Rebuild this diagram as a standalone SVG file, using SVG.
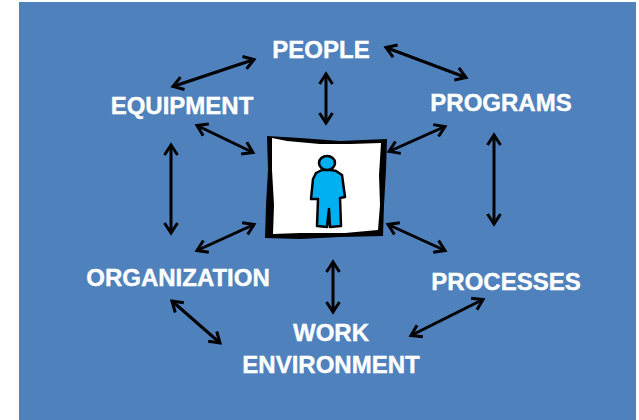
<svg xmlns="http://www.w3.org/2000/svg" width="639" height="420" viewBox="0 0 639 420">
<style>
.l{font-family:"Liberation Sans",Arial,sans-serif;font-weight:700;font-size:24px;fill:#fff;text-anchor:middle;stroke:#fff;stroke-width:.4}
.c{fill:none;stroke:#000;stroke-width:3;marker-start:url(#a);marker-end:url(#a)}
</style>
<defs>
<marker id="a" markerUnits="userSpaceOnUse" markerWidth="20" markerHeight="20" refX="15" refY="10" orient="auto-start-reverse">
<path d="M5 3.500L15 10L5 16.500" fill="none" stroke="#000" stroke-width="3"/>
</marker>
</defs>
<rect width="639" height="420" fill="#fff"/>
<rect x="19" y="2" width="617" height="418" fill="#4f81bd"/>
<g id="connectors">
<line class="c" x1="254" y1="59.500" x2="173" y2="86.500"/>
<line class="c" x1="386" y1="47.500" x2="466" y2="77.500"/>
<line class="c" x1="326" y1="74" x2="326" y2="123"/>
<line class="c" x1="197" y1="125.500" x2="253" y2="152.500"/>
<line class="c" x1="445" y1="126.500" x2="389" y2="151.500"/>
<line class="c" x1="171" y1="145" x2="171" y2="233"/>
<line class="c" x1="494" y1="135" x2="494" y2="224"/>
<line class="c" x1="197" y1="250.500" x2="254" y2="224.500"/>
<line class="c" x1="388" y1="224.500" x2="445" y2="250.500"/>
<line class="c" x1="333" y1="262" x2="333" y2="312"/>
<line class="c" x1="172" y1="301" x2="220" y2="343"/>
<line class="c" x1="411" y1="335.500" x2="483" y2="299.500"/>
</g>
<g id="center">
<path d="M267 136L300 138L340 141L387 139L386 170L384 205L383 236L340 237L300 239L265 238L266 205L268 170Z" fill="#000"/>
<path d="M272 138L287 141L320 144L350 144L381 143L379 175L380 205L378 230L345 233L300 233L273 234L274 205L272 170Z" fill="#fff"/>
<path d="M322 170L316 173L313 179L311 199L318 199L317 226L327 227L329 209L330 227L341 226L340 198L345 197L342 175L336 171L331 170Z" fill="#00b0f0" stroke="#000" stroke-width="2.500" stroke-linejoin="round"/>
<ellipse cx="327" cy="163" rx="8" ry="7" fill="#00b0f0" stroke="#000" stroke-width="2.500"/>
</g>
<g id="people"><text class="l" x="321" y="58">PEOPLE</text></g>
<g id="equipment"><text class="l" x="182" y="114">EQUIPMENT</text></g>
<g id="programs"><text class="l" x="501" y="111">PROGRAMS</text></g>
<g id="organization"><text class="l" x="178" y="286">ORGANIZATION</text></g>
<g id="processes"><text class="l" x="506" y="290">PROCESSES</text></g>
<g id="work-environment"><text class="l" x="331" y="341">WORK</text><text class="l" x="331" y="373">ENVIRONMENT</text></g>
</svg>
